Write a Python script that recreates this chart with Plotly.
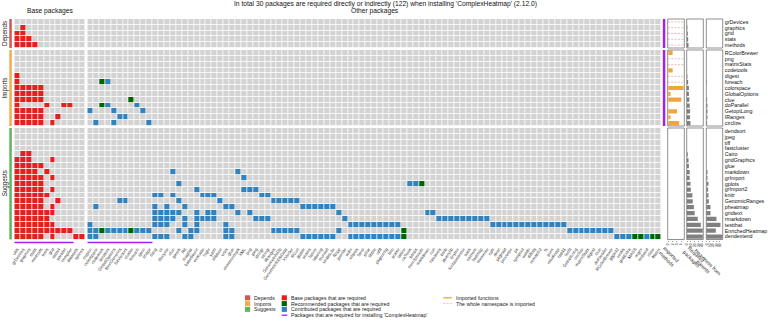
import plotly.graph_objects as go

W, H = 770, 320
FONT = "Liberation Sans, Arial, sans-serif"

# ------------------------------------------------------------------ data
title_text = "In total 30 packages are required directly or indirectly (122) when installing 'ComplexHeatmap' (2.12.0)"
pkg_name = "ComplexHeatmap"

base_cols = ["utils", "grDevices", "graphics", "stats", "methods", "tools", "grid",
             "stats4", "parallel", "compiler", "datasets", "splines"]
n_base_required = 10

other_cols = ["crayon", "colorspace", "codetools", "iterators", "GlobalOptions", "BiocGenerics",
              "S4Vectors", "cluster", "foreach", "rjson", "shape",
              "rlang", "cli", "lifecycle", "xfun", "gtools", "R6", "magrittr", "base64enc",
              "evaluate", "highr", "yaml", "zlibbioc", "vctrs", "glue", "commonmark", "XML",
              "png", "jpeg", "stringr", "stringi",
              "IRanges", "GenomeInfoDb", "GenomeInfoDbData", "XVector", "RCurl",
              "gtable", "scales", "farver", "labeling", "munsell", "viridisLite",
              "Rcpp", "jsonlite",
              "withr", "ellipsis", "fansi", "pillar", "tibble", "utf8", "pkgconfig", "brio", "praise",
              "lattice", "caTools", "bitops", "KernSmooth", "markdown", "curl",
              "htmltools", "bslib", "jquerylib", "tinytex", "fontawesome", "sass", "cachem",
              "fastmap", "memoise",
              "callr", "desc", "pkgload", "processx", "ps", "rprojroot", "waldo", "diffobj",
              "rematch2", "fs", "purrr", "rstudioapi", "cpp11",
              "locfit", "GetoptLong", "circlize", "matrixStats", "digest", "clue",
              "doParallel", "RColorBrewer",
              "ggplot2", "viridis", "gridExtra", "MASS", "mgcv", "isoband", "nlme", "Matrix"]
n_other_required = 11
recommended = ["codetools", "cluster", "lattice", "KernSmooth", "MASS", "mgcv", "nlme", "Matrix"]

group_names = ["Depends", "Imports", "Suggests"]
group_colors = ["#d9534f", "#f0ad4e", "#5cb85c"]
required_groups = ["Depends", "Imports"]

depends_rows = ["grDevices", "graphics", "grid", "stats", "methods"]
depends_base = [[], [1], [0, 1], [0, 1, 2], [0, 1, 2, 3]]
depends_other = [[], [], [], [], []]
depends_imported = [None, None, None, None, None]
depends_whole_ns = [1, 1, 1, 1, 1]
depends_heaviness = [0, 0, 0, 0, 0]

imports_rows = ["RColorBrewer", "png", "matrixStats", "codetools", "digest", "foreach",
                "colorspace", "GlobalOptions", "clue", "doParallel", "GetoptLong", "IRanges", "circlize"]
imports_base = [[], [], [], [], [0], [0], [0, 1, 2, 3, 4], [0, 1, 2, 3, 4], [0, 1, 2, 3, 4],
                [0, 5, 8, 9], [0, 1, 2, 3, 4], [0, 1, 2, 3, 4, 7], [0, 1, 2, 3, 4, 6]]
imports_other = [[], [], [], [], [], [2, 3], [], [], [7], [2, 3, 8], [0, 4, 9], [5, 6], [1, 4, 10]]
imports_imported = [2, None, None, 2, None, None, 7, 1, 6, None, 4, 1, 5]
imports_whole_ns = [0, 1, 1, 0, 1, 1, 0, 0, 0, 0, 0, 0, 0]
imports_heaviness = [0, 0, 0, 0, 0, 1, 0, 0, 2, 3, 3, 3, 2]

suggests_rows = ["dendsort", "jpeg", "tiff", "fastcluster", "Cairo", "gridGraphics", "glue",
                 "markdown", "grImport", "gplots", "grImport2", "knitr", "GenomicRanges",
                 "pheatmap", "gridtext", "rmarkdown", "testthat", "EnrichedHeatmap", "dendextend"]
suggests_base = [[], [], [], [], [1, 2], [0, 1, 2, 6], [0, 1, 2, 3, 4], [0, 1, 2, 3, 5],
                 [0, 1, 2, 3, 4, 6], [0, 1, 2, 3, 4], [0, 1, 2, 3, 4, 6], [0, 1, 2, 3, 4, 5],
                 [0, 1, 2, 3, 4, 7], [0, 1, 2, 3, 4, 6], [0, 1, 2, 3, 4, 5, 6], [0, 1, 2, 3, 4, 5],
                 [0, 1, 2, 3, 4, 5, 6], [0, 1, 2, 3, 4, 5, 6, 7, 8, 9], [0, 1, 2, 3, 4, 6, 10, 11]]
suggests_other = [[], [], [], [], [], [], [],
                  [14, 25],
                  [26],
                  [15, 54, 55, 56],
                  [18, 26, 27, 28],
                  [11, 12, 14, 19, 20, 21, 29, 30],
                  [5, 6, 15, 22, 31, 32, 33, 34, 35],
                  [1, 11, 13, 16, 23, 24, 36, 37, 38, 39, 40, 41],
                  [11, 12, 13, 14, 15, 18, 20, 21, 25, 27, 42, 57, 58],
                  [11, 12, 13, 14, 16, 18, 19, 20, 21, 28, 29, 30, 43,
                   59, 60, 61, 62, 63, 64, 65, 66, 67],
                  [0, 11, 12, 13, 16, 18, 23, 44, 45, 46, 47, 48, 49, 50, 51, 52,
                   68, 69, 70, 71, 72, 73, 74, 75, 76, 77, 78, 79, 80],
                  [0, 1, 2, 3, 4, 5, 6, 7, 8, 9, 10, 15, 17, 18, 23, 24, 31, 32, 33, 34, 35, 42, 53,
                   81, 82, 83, 84, 85, 86, 87, 88],
                  [0, 1, 11, 12, 13, 16, 17, 23, 24, 36, 37, 38, 39, 40, 41,
                   44, 45, 46, 47, 48, 49, 50, 51, 52, 53, 89, 90, 91, 92, 93, 94, 95, 96]]
suggests_imported = [None] * 19
suggests_whole_ns = [0] * 19
suggests_heaviness = [0, 0, 0, 0, 0, 0, 0, 3, 3, 6, 5, 6, 7, 12, 12, 30, 42, 28, 48]

imported_ticks = [0, 2, 4, 6]
required_ticks = [0, 10, 20, 30, 40]
heaviness_ticks = [0, 10, 20, 30, 40]
anno_titles = ["Imported<br>methods", "Required<br>packages", "Heaviness from<br>parents"]

legend_group_labels = group_names
legend_cell_labels = ["Base packages that are required", "Recommended packages that are required",
                      "Contributed packages that are required",
                      "Packages that are required for installing '%s'" % pkg_name]
legend_import_labels = ["Imported functions", "The whole namespace is imported"]

# ------------------------------------------------------------------ style
GRAY, RED, DGREEN, BLUE = "#D3D3D3", "#E3201E", "#006400", "#3182BD"
PURPLE, ORANGE, BARGRAY, DASHC = "#A020F0", "#F2A33A", "#808080", "#E58A8A"
cscale = [[0, GRAY], [1 / 6, GRAY], [1 / 6, RED], [0.5, RED], [0.5, DGREEN],
          [5 / 6, DGREEN], [5 / 6, BLUE], [1, BLUE]]


def pxx(x):
    return x / W


def pxy(y):
    return 1 - y / H


group_rows = [depends_rows, imports_rows, suggests_rows]
group_base = [depends_base, imports_base, suggests_base]
group_other = [depends_other, imports_other, suggests_other]
group_imported = [depends_imported, imports_imported, suggests_imported]
group_ns = [depends_whole_ns, imports_whole_ns, suggests_whole_ns]
group_heavy = [depends_heaviness, imports_heaviness, suggests_heaviness]
group_py = [(19, 48), (50, 126), (128, 239.5)]

imp_range = [-0.3, 7.4]
req_range = [-0.8, 42.5]
hv_range = [-0.6, 48.8]

fig = go.Figure()
layout = dict(width=W, height=H, margin=dict(l=0, r=0, t=0, b=0), template="none",
              paper_bgcolor="white", plot_bgcolor="white", showlegend=False,
              font=dict(family=FONT, color="#222"))
shapes, annos = [], []

for gi, gname in enumerate(group_names):
    yname = "y" if gi == 0 else "y%d" % (gi + 1)
    ykey = "yaxis" if gi == 0 else "yaxis%d" % (gi + 1)
    rows = group_rows[gi]
    zb, zo = [], []
    for b, o in zip(group_base[gi], group_other[gi]):
        rb = [0] * len(base_cols)
        for i in b:
            rb[i] = 1
        ro = [0] * len(other_cols)
        for i in o:
            ro[i] = 2 if other_cols[i] in recommended else 3
        zb.append(rb)
        zo.append(ro)
    for z, xa in ((zb, "x"), (zo, "x2")):
        fig.add_trace(go.Heatmap(z=z, xaxis=xa, yaxis=yname, colorscale=cscale, zmin=0, zmax=3,
                                 showscale=False, xgap=0.8, ygap=0.8, hoverinfo="skip"))
    idx = list(range(len(rows)))
    required = [len(b) + len(o) for b, o in zip(group_base[gi], group_other[gi])]
    fig.add_trace(go.Bar(x=group_imported[gi], y=idx, orientation="h", xaxis="x3", yaxis=yname,
                         marker=dict(color=ORANGE, line=dict(width=0)), width=0.72, hoverinfo="skip"))
    fig.add_trace(go.Bar(x=required, y=idx, orientation="h", xaxis="x4", yaxis=yname,
                         marker=dict(color=BARGRAY, line=dict(width=0)), width=0.72, hoverinfo="skip"))
    fig.add_trace(go.Bar(x=group_heavy[gi], y=idx, orientation="h", xaxis="x5", yaxis=yname,
                         marker=dict(color=BARGRAY, line=dict(width=0)), width=0.72, hoverinfo="skip"))
    lx, ly = [], []
    for i, f in enumerate(group_ns[gi]):
        if f:
            lx += [imp_range[0], imp_range[1], None]
            ly += [i, i, None]
    if lx:
        fig.add_trace(go.Scatter(x=lx, y=ly, mode="lines", xaxis="x3", yaxis=yname,
                                 line=dict(color=DASHC, width=0.6, dash="2px,1.4px"), hoverinfo="skip"))
    y0, y1 = group_py[gi]
    layout[ykey] = dict(domain=[pxy(y1), pxy(y0)], range=[len(rows) - 0.5, -0.5], anchor="free",
                        position=pxx(723.8), side="right", tickvals=idx, ticktext=rows,
                        tickfont=dict(size=5.3, color="#111"), ticks="", showgrid=False,
                        zeroline=False, showline=False, fixedrange=True, automargin=False)
    for xa in ("x3", "x4", "x5"):
        shapes.append(dict(type="rect", xref="%s domain" % xa, yref="%s domain" % yname,
                           x0=0, x1=1, y0=0, y1=1, line=dict(color="#444", width=0.6)))
    shapes.append(dict(type="rect", xref="paper", yref="%s domain" % yname, x0=pxx(9.3), x1=pxx(11.8),
                       y0=0, y1=1, fillcolor=group_colors[gi], line=dict(width=0)))
    if gname in required_groups:
        shapes.append(dict(type="rect", xref="paper", yref="%s domain" % yname, x0=pxx(662.8),
                           x1=pxx(665.3), y0=0, y1=1, fillcolor=PURPLE, line=dict(width=0)))
    annos.append(dict(text=gname, x=pxx(4.6), y=pxy((y0 + y1) / 2), xref="paper", yref="paper",
                      xanchor="center", yanchor="middle", textangle=-90, showarrow=False,
                      font=dict(size=6.3, color="#222")))

axis_common = dict(showgrid=False, zeroline=False, showline=False, fixedrange=True, automargin=False)
layout["xaxis"] = dict(domain=[pxx(14.3), pxx(85.4)], range=[-0.5, len(base_cols) - 0.5], anchor="y3",
                       tickvals=list(range(len(base_cols))), ticktext=base_cols, tickangle=-55,
                       tickfont=dict(size=4.3, color="#333"), ticks="outside", ticklen=4.5,
                       tickcolor="rgba(0,0,0,0)", **axis_common)
layout["xaxis2"] = dict(domain=[pxx(87.3), pxx(661.7)], range=[-0.5, len(other_cols) - 0.5], anchor="y3",
                        tickvals=list(range(len(other_cols))), ticktext=other_cols, tickangle=-55,
                        tickfont=dict(size=4.3, color="#333"), ticks="outside", ticklen=4.5,
                        tickcolor="rgba(0,0,0,0)", **axis_common)
for key, dom, rng, tv in (("xaxis3", (667.7, 684.3), imp_range, imported_ticks),
                          ("xaxis4", (686.7, 703.3), req_range, required_ticks),
                          ("xaxis5", (706.3, 722.7), hv_range, heaviness_ticks)):
    layout[key] = dict(domain=[pxx(dom[0]), pxx(dom[1])], range=rng, anchor="y3", tickvals=tv,
                       ticktext=[str(v) for v in tv], tickangle=-90, tickfont=dict(size=3.3, color="#333"),
                       ticks="outside", ticklen=1.5, tickwidth=0.5, tickcolor="#333", **axis_common)

shapes.append(dict(type="line", xref="x", yref="paper", x0=-0.5, x1=n_base_required - 0.5,
                   y0=pxy(242.4), y1=pxy(242.4), line=dict(color=PURPLE, width=1.5)))
shapes.append(dict(type="line", xref="x2", yref="paper", x0=-0.5, x1=n_other_required - 0.5,
                   y0=pxy(242.4), y1=pxy(242.4), line=dict(color=PURPLE, width=1.5)))

annos.append(dict(text=title_text, x=pxx(385), y=pxy(4.3), xref="paper", yref="paper", showarrow=False,
                  xanchor="center", yanchor="middle", font=dict(size=6.7, color="#111")))
annos.append(dict(text="Base packages", x=pxx(49.8), y=pxy(11.5), xref="paper", yref="paper",
                  xanchor="center", yanchor="middle", showarrow=False, font=dict(size=6.7, color="#111")))
annos.append(dict(text="Other packages", x=pxx(374.5), y=pxy(11.5), xref="paper", yref="paper",
                  xanchor="center", yanchor="middle", showarrow=False, font=dict(size=6.7, color="#111")))
for t, (cx, cy) in zip(anno_titles, [(668.5, 256.5), (693.5, 256.5), (705.5, 264.5)]):
    annos.append(dict(text=t, x=pxx(cx), y=pxy(cy), xref="paper", yref="paper", showarrow=False,
                      xanchor="center", yanchor="middle", textangle=45, font=dict(size=5, color="#222")))

leg_y = [297.8, 303.6, 309.4, 315.2]
for i, lab in enumerate(legend_group_labels):
    shapes.append(dict(type="rect", xref="paper", yref="paper", x0=pxx(245), x1=pxx(250.2),
                       y0=pxy(leg_y[i] + 2.5), y1=pxy(leg_y[i] - 2.5), fillcolor=group_colors[i],
                       line=dict(width=0)))
    annos.append(dict(text=lab, x=pxx(252), y=pxy(leg_y[i]), xref="paper", yref="paper", xanchor="left",
                      yanchor="middle", showarrow=False, font=dict(size=5.2, color="#222")))
for i, (lab, col) in enumerate(zip(legend_cell_labels, [RED, DGREEN, BLUE, PURPLE])):
    if i < 3:
        shapes.append(dict(type="rect", xref="paper", yref="paper", x0=pxx(281.7), x1=pxx(286.9),
                           y0=pxy(leg_y[i] + 2.5), y1=pxy(leg_y[i] - 2.5), fillcolor=col,
                           line=dict(width=0)))
    else:
        shapes.append(dict(type="line", xref="paper", yref="paper", x0=pxx(281.7), x1=pxx(287.3),
                           y0=pxy(leg_y[i]), y1=pxy(leg_y[i]), line=dict(color=col, width=1.3)))
    annos.append(dict(text=lab, x=pxx(289.3), y=pxy(leg_y[i]), xref="paper", yref="paper",
                      xanchor="left", yanchor="middle", showarrow=False, font=dict(size=5.2, color="#222")))
shapes.append(dict(type="line", xref="paper", yref="paper", x0=pxx(443.3), x1=pxx(451.8),
                   y0=pxy(leg_y[0]), y1=pxy(leg_y[0]), line=dict(color=ORANGE, width=1.3)))
shapes.append(dict(type="line", xref="paper", yref="paper", x0=pxx(443.3), x1=pxx(451.8),
                   y0=pxy(leg_y[1]), y1=pxy(leg_y[1]), line=dict(color=DASHC, width=0.6, dash="2px,1.4px")))
for i, lab in enumerate(legend_import_labels):
    annos.append(dict(text=lab, x=pxx(454.3), y=pxy(leg_y[i]), xref="paper", yref="paper",
                      xanchor="left", yanchor="middle", showarrow=False, font=dict(size=5.2, color="#222")))

layout["shapes"] = shapes
layout["annotations"] = annos
fig.update_layout(**layout)
fig.write_html("out.html", config={"displayModeBar": False, "staticPlot": True},
               post_script="document.body.style.margin='0px';document.body.style.padding='0px';")
